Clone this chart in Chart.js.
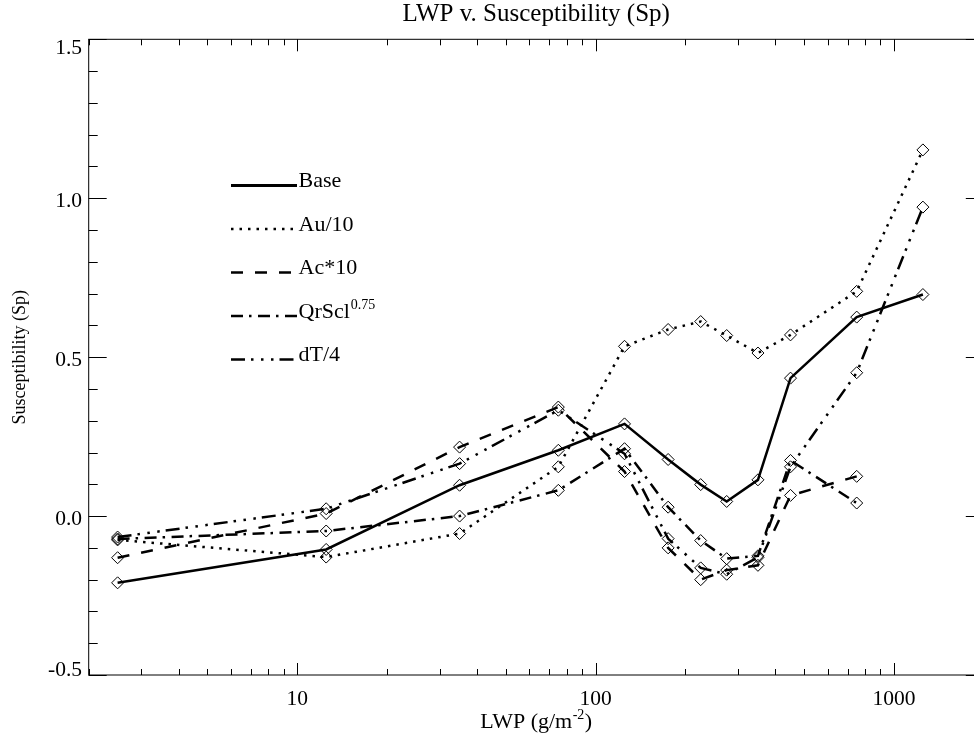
<!DOCTYPE html>
<html>
<head>
<meta charset="utf-8">
<script src="https://cdn.jsdelivr.net/npm/chart.js"></script>
<style>
  html, body { margin: 0; padding: 0; background: #fff; }
  #contenedor { width: 974px; height: 735px; overflow: hidden; }
  #grafico { display: block; }
</style>
</head>
<body>
<div id="contenedor"><canvas id="grafico" width="1000" height="735"></canvas></div>
<script>
// Datos (LWP en g/m^-2)
const lwp = [2.5, 12.5, 35, 75, 125, 175, 225, 275, 350, 450, 750, 1250]
const base = [-0.21, -0.105, 0.097, 0.207, 0.29, 0.178, 0.099, 0.046, 0.114, 0.434, 0.626, 0.697]
const au10 = [-0.075, -0.129, -0.055, 0.155, 0.534, 0.587, 0.612, 0.568, 0.513, 0.57, 0.707, 1.152]
const ac10 = [-0.131, 0.008, 0.217, 0.343, 0.14, -0.1, -0.2, -0.17, -0.155, 0.065, 0.125, null]
const qrScl = [-0.072, -0.047, 0.0, 0.081, 0.212, 0.028, -0.077, -0.134, -0.125, 0.175, 0.041, null]
const dT4 = [-0.066, 0.023, 0.165, 0.333, 0.196, -0.071, -0.163, -0.183, -0.13, 0.155, 0.451, 0.972]

const nombresSeries = ['Base', 'Au/10', 'Ac*10', 'QrScl', 'dT/4']
const superindices = ['', '', '', '0.75', '']
const valoresSeries = [base, au10, ac10, qrScl, dT4]
const trazos = [[], [2.5, 6], [12, 12], [12, 6, 2.5, 6.5], [14, 6, 2.5, 7.5, 2.5, 7.5, 2.5, 6]]

const ticksX = [10, 100, 1000]
const etiquetasX = ['10', '100', '1000']
const ticksY = [-0.5, 0.0, 0.5, 1.0, 1.5]
const etiquetasY = ['-0.5', '0.0', '0.5', '1.0', '1.5']

const titulo = 'LWP v. Susceptibility (Sp)'
const tituloY = 'Susceptibility (Sp)'
const fuente = '"Liberation Serif", "Times New Roman", serif'

// texto con superindice opcional, alineado a la izquierda
const textoConSup = (ctx, texto, sup, x, y, tam, tamSup) => {
    ctx.font = `${tam}px ${fuente}`
    ctx.textAlign = 'left'
    ctx.fillText(texto, x, y)
    let ancho = ctx.measureText(texto).width
    if (sup) {
        ctx.font = `${tamSup}px ${fuente}`
        ctx.fillText(sup, x + ancho + 1, y - tam * 0.4)
        ancho += ctx.measureText(sup).width + 1
    }
    return ancho
}

// ejes tipo IDL: caja, ticks hacia dentro, etiquetas, titulos y leyenda
const ejesIdl = {
    id: 'ejesIdl',
    afterDraw(chart) {
        const { ctx, chartArea, scales } = chart
        const { left, right, top, bottom } = chartArea
        const x = scales.x
        const y = scales.y
        ctx.save()
        ctx.strokeStyle = '#000'
        ctx.fillStyle = '#000'
        ctx.lineWidth = 1
        ctx.setLineDash([])
        ctx.strokeRect(left, top, right - left, bottom - top)

        // ticks del eje y (mayores cada 0.5, menores cada 0.1)
        ctx.beginPath()
        for (let i = -5; i <= 15; i++) {
            const py = Math.round(y.getPixelForValue(i / 10)) + 0.5
            const largo = i % 5 === 0 ? 18 : 9
            ctx.moveTo(left, py)
            ctx.lineTo(left + largo, py)
            ctx.moveTo(right, py)
            ctx.lineTo(right - largo, py)
        }
        // ticks del eje x logaritmico
        for (let d = 1; d <= 1000; d *= 10) {
            for (let m = 1; m <= 9; m++) {
                const v = m * d
                if (v < 2 || v > 2000) continue
                const px = Math.round(x.getPixelForValue(v)) + 0.5
                const largo = m === 1 ? 12 : 6
                ctx.moveTo(px, bottom)
                ctx.lineTo(px, bottom - largo)
                ctx.moveTo(px, top)
                ctx.lineTo(px, top + largo)
            }
        }
        ctx.stroke()

        // etiquetas de los ticks
        ctx.font = `21.5px ${fuente}`
        ctx.textAlign = 'right'
        ctx.textBaseline = 'alphabetic'
        ticksY.forEach((v, i) => {
            let centro = y.getPixelForValue(v) + 1
            centro = Math.min(Math.max(centro, top + 7), bottom - 7)
            ctx.fillText(etiquetasY[i], 82, centro + 7.5)
        })
        ctx.textAlign = 'center'
        ticksX.forEach((v, i) => {
            ctx.fillText(etiquetasX[i], x.getPixelForValue(v), 705)
        })

        // titulo principal
        const centroX = (left + right) / 2
        ctx.font = `25px ${fuente}`
        ctx.fillText(titulo, centroX, 21)

        // titulo eje x con superindice
        ctx.font = `22px ${fuente}`
        const parte1 = 'LWP (g/m'
        const w1 = ctx.measureText(parte1).width
        const w3 = ctx.measureText(')').width
        ctx.font = `14px ${fuente}`
        const w2 = ctx.measureText('-2').width + 1
        const inicio = centroX - (w1 + w2 + w3) / 2
        ctx.textAlign = 'left'
        ctx.font = `22px ${fuente}`
        ctx.fillText(parte1, inicio, 728)
        ctx.font = `14px ${fuente}`
        ctx.fillText('-2', inicio + w1 + 0.5, 719)
        ctx.font = `22px ${fuente}`
        ctx.fillText(')', inicio + w1 + w2, 728)

        // titulo eje y
        ctx.save()
        ctx.translate(25, (top + bottom) / 2)
        ctx.rotate(-Math.PI / 2)
        ctx.textAlign = 'center'
        ctx.font = `18px ${fuente}`
        ctx.fillText(tituloY, 0, 0)
        ctx.restore()

        // leyenda dentro del area
        chart.data.datasets.forEach((ds, i) => {
            const ly = 185.5 + i * 43.5
            ctx.beginPath()
            ctx.lineWidth = i === 0 ? 3 : 2.5
            ctx.setLineDash(ds.borderDash)
            ctx.moveTo(231, ly)
            ctx.lineTo(297, ly)
            ctx.stroke()
            ctx.setLineDash([])
            textoConSup(ctx, nombresSeries[i], superindices[i], 298.5, ly + 1.5, 22, 14)
        })
        ctx.restore()
    }
}

const datasets = valoresSeries.map((valores, i) => ({
    label: nombresSeries[i] + superindices[i],
    data: lwp.map((v, j) => ({ x: v, y: valores[j] })).filter(p => p.y !== null),
    borderColor: '#000',
    borderWidth: 2.5,
    borderDash: trazos[i],
    fill: false,
    tension: 0,
    pointStyle: 'rectRot',
    pointRadius: 6,
    pointBorderWidth: 1,
    pointBorderColor: '#000',
    pointBackgroundColor: 'rgba(0,0,0,0)'
}))

new Chart(document.getElementById('grafico'), {
    type: 'line',
    data: { datasets },
    options: {
        responsive: false,
        animation: false,
        clip: false,
        layout: { autoPadding: false, padding: { left: 88.7, top: 39.3, right: 16.2, bottom: 60 } },
        scales: {
            x: { type: 'logarithmic', min: 2, max: 2000, display: false },
            y: { type: 'linear', min: -0.5, max: 1.5, display: false }
        },
        plugins: {
            legend: { display: false },
            title: { display: false },
            tooltip: { enabled: false }
        }
    },
    plugins: [ejesIdl]
})
</script>
</body>
</html>
